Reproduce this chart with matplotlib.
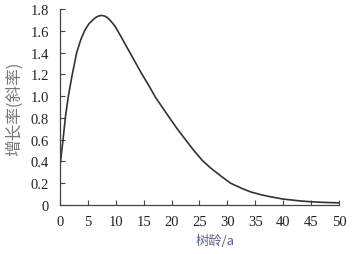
import numpy as np
import matplotlib.pyplot as plt

# tree age (a) and growth rate (slope)
age = [0, 0.5, 1, 1.5, 2.2, 3, 3.7, 4.4, 5.2, 6, 6.5, 7, 7.5, 8, 8.5, 9,
       9.5, 10, 11, 12.3, 13.5, 14.7, 16, 17.1, 18.3, 19.5, 21, 22.5, 24,
       25.5, 27, 29, 30.6, 32.5, 34.2, 36, 37.8, 40, 41.4, 43, 45, 47.5, 50]
rate = [0.36, 0.58, 0.82, 1.0, 1.2, 1.4, 1.515, 1.6, 1.665, 1.705, 1.725,
        1.737, 1.74, 1.735, 1.72, 1.695, 1.665, 1.63, 1.54, 1.42, 1.31, 1.2,
        1.09, 0.99, 0.9, 0.81, 0.7, 0.6, 0.5, 0.41, 0.34, 0.26, 0.2, 0.155,
        0.12, 0.095, 0.075, 0.055, 0.047, 0.038, 0.03, 0.024, 0.02]
xticks = [0, 5, 10, 15, 20, 25, 30, 35, 40, 45, 50]
yticks = [0, 0.2, 0.4, 0.6, 0.8, 1.0, 1.2, 1.4, 1.6, 1.8]
ytick_labels = ['0', '0.2', '0.4', '0.6', '0.8', '1.0', '1.2', '1.4', '1.6', '1.8']

cjk = ['Noto Sans CJK SC', 'DejaVu Sans']

fig = plt.figure(figsize=(3.54, 2.55), dpi=100)
ax = fig.add_axes([0.1695, 0.192, 0.788, 0.769])

ax.plot(age, rate, color='#333333', linewidth=1.2)

ax.set_xlim(0, 50)
ax.set_ylim(0, 1.8)
ax.set_xticks(xticks)
ax.set_xticklabels([str(t) for t in xticks])
ax.set_yticks(yticks)
ax.set_yticklabels(ytick_labels)

for s in ['top', 'right']:
    ax.spines[s].set_visible(False)
for s in ['left', 'bottom']:
    ax.spines[s].set_color('#444444')
    ax.spines[s].set_linewidth(0.9)

ax.tick_params(axis='both', direction='in', length=3.5, width=0.8,
               colors='#444444', labelcolor='#222222', labelsize=10.5)
ax.tick_params(axis='x', pad=7)
ax.tick_params(axis='y', pad=8)
for lab in ax.get_xticklabels() + ax.get_yticklabels():
    lab.set_family('Liberation Serif')

fig.text(0.607, 0.055, '树龄/a', family=cjk, fontsize=9.5, color='#55618c',
         ha='center', va='center')
fig.text(0.042, 0.575, '增长率(斜率)', family=cjk, fontsize=12, color='#777777',
         ha='center', va='center', rotation=90)

fig.savefig('out.png', dpi=100)
